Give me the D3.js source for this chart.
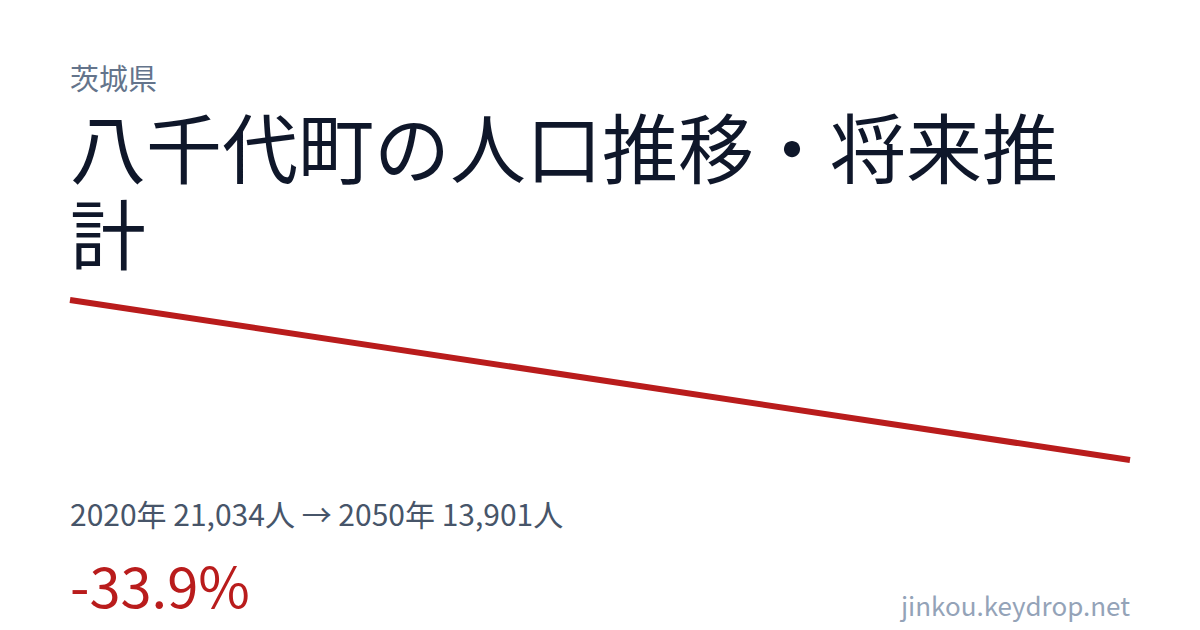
<!DOCTYPE html>
<html>
<head>
<meta charset="utf-8">
<script src="https://d3js.org/d3.v7.min.js"></script>
<style>
    body { margin: 0; background: #ffffff; }
    svg { display: block; }
    text { font-family: "Noto Sans CJK JP", "Noto Sans", sans-serif; }
</style>
</head>
<body>
<svg id="chart"></svg>
<script>
    // data
    const prefecture = "茨城県"
    const town = "八千代町"
    const years = [2020, 2050]
    const population = [21034, 13901]
    const site = "jinkou.keydrop.net"

    const W = 1200, H = 630
    const left = 70, right = 1130

    const svg = d3.select("#chart").attr("width", W).attr("height", H)

    svg.append("text")
        .attr("x", left).attr("y", 90)
        .attr("font-size", 29)
        .attr("fill", "#64748b")
        .text(prefecture)

    // title, wrapped by hand
    const title = town + "の人口推移・将来推計"
    const titleSize = 76
    const titleText = svg.append("text")
        .attr("x", left).attr("y", 178)
        .attr("font-size", titleSize)
        .attr("fill", "#0f172a")
    let lines = [], cur = ""
    let probe = titleText.append("tspan")
    for (const ch of title) {
        probe.text(cur + ch)
        if (probe.node().getComputedTextLength() > right - left && cur !== "") {
            lines.push(cur)
            cur = ch
        } else {
            cur = cur + ch
        }
    }
    lines.push(cur)
    probe.remove()
    lines.forEach((l, i) => {
        titleText.append("tspan")
            .attr("x", left)
            .attr("dy", i === 0 ? 0 : 86)
            .text(l)
    })

    // line
    const x = d3.scaleLinear().domain(d3.extent(years)).range([left, right])
    const y = d3.scaleLinear().domain(d3.extent(population)).range([460, 300])

    const line = d3.line()
        .x((d, i) => x(years[i]))
        .y(d => y(d))

    svg.append("path")
        .datum(population)
        .attr("d", line)
        .attr("fill", "none")
        .attr("stroke", "#b91c1c")
        .attr("stroke-width", 6)

    const fmt = d3.format(",")
    const first = population[0], last = population[population.length - 1]
    svg.append("text")
        .attr("x", left).attr("y", 526)
        .attr("font-size", 30)
        .attr("fill", "#475569")
        .text(years[0] + "年 " + fmt(first) + "人 → " + years[years.length - 1] + "年 " + fmt(last) + "人")

    // d3.format gives a unicode minus, the reference shows a plain hyphen
    const pct = ((last - first) / first * 100).toFixed(1) + "%"
    svg.append("text")
        .attr("x", left).attr("y", 608)
        .attr("font-size", 56)
        .attr("fill", "#b91c1c")
        .text(pct)

    svg.append("text")
        .attr("x", right).attr("y", 616)
        .attr("text-anchor", "end")
        .attr("font-size", 26)
        .attr("fill", "#94a3b8")
        .text(site)
</script>
</body>
</html>
